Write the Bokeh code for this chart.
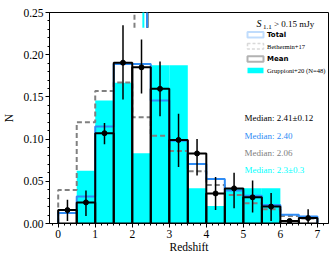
import numpy as np
from bokeh.plotting import figure
from bokeh.models import Label, BoxAnnotation, SingleIntervalTicker, PrintfTickFormatter, Range1d
from bokeh.embed import file_html
from bokeh.resources import INLINE

# ---------------- data ----------------
bin_edges = [0.0, 0.5, 1.0, 1.5, 2.0, 2.5, 3.0, 3.5, 4.0, 4.5, 5.0, 5.5, 6.0, 6.5, 7.0]
total = [0.0123, 0.032, 0.115, 0.189, 0.189, 0.1457, 0.098, 0.0705, 0.0527, 0.039, 0.033, 0.022, 0.0103, 0.0083]
mean = [0.0159, 0.025, 0.107, 0.1905, 0.185, 0.1596, 0.099, 0.083, 0.0356, 0.0416, 0.031, 0.020, 0.003, 0.0064]
mean_lo = [0.003, 0.009, 0.094, 0.147, 0.154, 0.127, 0.067, 0.057, 0.016, 0.018, 0.013, 0.003, 0.001, 0.0]
mean_hi = [0.028, 0.039, 0.119, 0.235, 0.218, 0.192, 0.130, 0.100, 0.055, 0.060, 0.051, 0.036, 0.005, 0.017]
bethermin = [0.0397, 0.120, 0.157, 0.167, 0.126, 0.104, 0.086, 0.062, 0.0456, 0.0337, 0.024, 0.017, 0.009, 0.006]
gruppioni_counts = [0, 3, 7, 8, 4, 9, 9, 2, 1, 2, 2, 2, 0, 0]
gruppioni_n = 48
median_mean = 2.41
median_total = 2.40
median_bethermin = 2.06
median_gruppioni = 2.3
median_texts = ["Median: 2.41\u00b10.12", "Median: 2.40", "Median: 2.06", "Median: 2.3\u00b10.3"]

# ---------------- derived ----------------
edges = np.array(bin_edges)
left = edges[:-1]
right = edges[1:]
centers = (left + right) / 2
grupp = np.array(gruppioni_counts) / gruppioni_n

def step_outline(vals):
    xs = np.repeat(edges, 2)
    ys = np.concatenate([[0.0], np.repeat(np.array(vals), 2), [0.0]])
    return xs, ys

BLUE = "#2f8cf5"
GREY = "#808080"
CYAN = "#00ffff"
SERIF = "Liberation Serif"

p = figure(width=332, height=260, x_range=Range1d(-0.235, 7.3), y_range=Range1d(0, 0.25),
           output_backend="svg", toolbar_location=None,
           min_border_left=48, min_border_right=4, min_border_top=12, min_border_bottom=37)
p.grid.visible = False
p.outline_line_color = "black"
p.outline_line_width = 1
p.background_fill_color = "white"
p.border_fill_color = "white"

p.xaxis.ticker = SingleIntervalTicker(interval=1, num_minor_ticks=6)
p.yaxis.ticker = SingleIntervalTicker(interval=0.05, num_minor_ticks=5)
p.yaxis.formatter = PrintfTickFormatter(format="%.2f")
for ax in (p.xaxis[0], p.yaxis[0]):
    ax.major_tick_out = 4
    ax.major_tick_in = 0
    ax.minor_tick_out = 2
    ax.minor_tick_in = 0
    ax.axis_line_color = "black"
    ax.major_tick_line_color = "black"
    ax.minor_tick_line_color = "black"
    ax.major_label_text_font = SERIF
    ax.major_label_text_font_size = "11.5px"
    ax.major_label_text_color = "black"
    ax.axis_label_text_font = SERIF
    ax.axis_label_text_font_size = "11.5px"
    ax.axis_label_text_font_style = "normal"
    ax.axis_label_text_color = "black"
p.xaxis.axis_label = "Redshift"
p.yaxis.axis_label = "N"
p.xaxis.major_label_standoff = 2
p.yaxis.major_label_standoff = 2
p.xaxis.axis_label_standoff = 0
p.yaxis.axis_label_standoff = 5

# Gruppioni filled histogram
p.quad(left=left, right=right, bottom=0, top=grupp, fill_color=CYAN, line_color=None)

# Bethermin dashed step
bx, by = step_outline(bethermin)
p.line(bx, by, line_color=GREY, line_width=2, line_dash="5 3")

# Total step
tx, ty = step_outline(total)
p.line(tx, ty, line_color=BLUE, line_width=2)

# Mean bars
p.quad(left=left, right=right, bottom=0, top=mean, fill_alpha=0, line_color="black", line_width=2)

# error bars + points
p.segment(x0=centers, y0=mean_lo, x1=centers, y1=mean_hi, line_color="black", line_width=1.5)
p.scatter(centers, mean, size=5, marker="circle", fill_color="black", line_color="black")

# median markers at the top
p.segment(x0=[median_mean], y0=[0.232], x1=[median_mean], y1=[0.26], line_color="black", line_width=2)
p.segment(x0=[median_bethermin], y0=[0.232], x1=[median_bethermin], y1=[0.26], line_color=GREY, line_width=2, line_dash="5 3")
p.segment(x0=[median_gruppioni], y0=[0.232], x1=[median_gruppioni], y1=[0.26], line_color=CYAN, line_width=2)
p.segment(x0=[median_total], y0=[0.232], x1=[median_total], y1=[0.26], line_color=BLUE, line_width=2)

# ---------------- legend (screen units, frame-relative) ----------------
title_y = 200
p.add_layout(Label(x=207, y=title_y, x_units="screen", y_units="screen", text="S",
                   text_font=SERIF, text_font_style="italic", text_font_size="10px",
                   text_baseline="middle", text_color="black"))
p.add_layout(Label(x=213.5, y=title_y - 3, x_units="screen", y_units="screen", text="1.1",
                   text_font=SERIF, text_font_size="7px", text_baseline="middle", text_color="black"))
p.add_layout(Label(x=224.5, y=title_y, x_units="screen", y_units="screen", text="> 0.15 mJy",
                   text_font=SERIF, text_font_size="9px", text_baseline="middle", text_color="black"))

entries = [
    ("Total", dict(line_color=BLUE, line_width=2, fill_color=None), "DejaVu Sans", "bold", 188.7),
    ("Bethermin+17", dict(line_color=GREY, line_width=1.5, line_dash="3 2", fill_color=None), SERIF, "normal", 177.3),
    ("Mean", dict(line_color="black", line_width=2, fill_color=None), "DejaVu Sans", "bold", 164.5),
    ("Gruppioni+20 (N=48)", dict(line_color=None, fill_color=CYAN, fill_alpha=1), SERIF, "normal", 153),
]
for text, style, font, fstyle, yc in entries:
    p.add_layout(BoxAnnotation(left=198, right=214, bottom=yc - 2.7, top=yc + 2.7,
                               left_units="screen", right_units="screen",
                               bottom_units="screen", top_units="screen", **style))
    p.add_layout(Label(x=217.5, y=yc, x_units="screen", y_units="screen", text=text,
                       text_font=font, text_font_style=fstyle,
                       text_font_size="6.6px" if font == SERIF else "7px",
                       text_baseline="middle", text_color="black"))

median_colors = ["black", BLUE, GREY, CYAN]
median_y = [106, 88, 71, 54]
for t, c, yy in zip(median_texts, median_colors, median_y):
    p.add_layout(Label(x=195, y=yy, x_units="screen", y_units="screen", text=t,
                       text_font=SERIF, text_font_size="9px", text_baseline="middle", text_color=c))

open("out.html", "w").write(file_html(p, INLINE))
